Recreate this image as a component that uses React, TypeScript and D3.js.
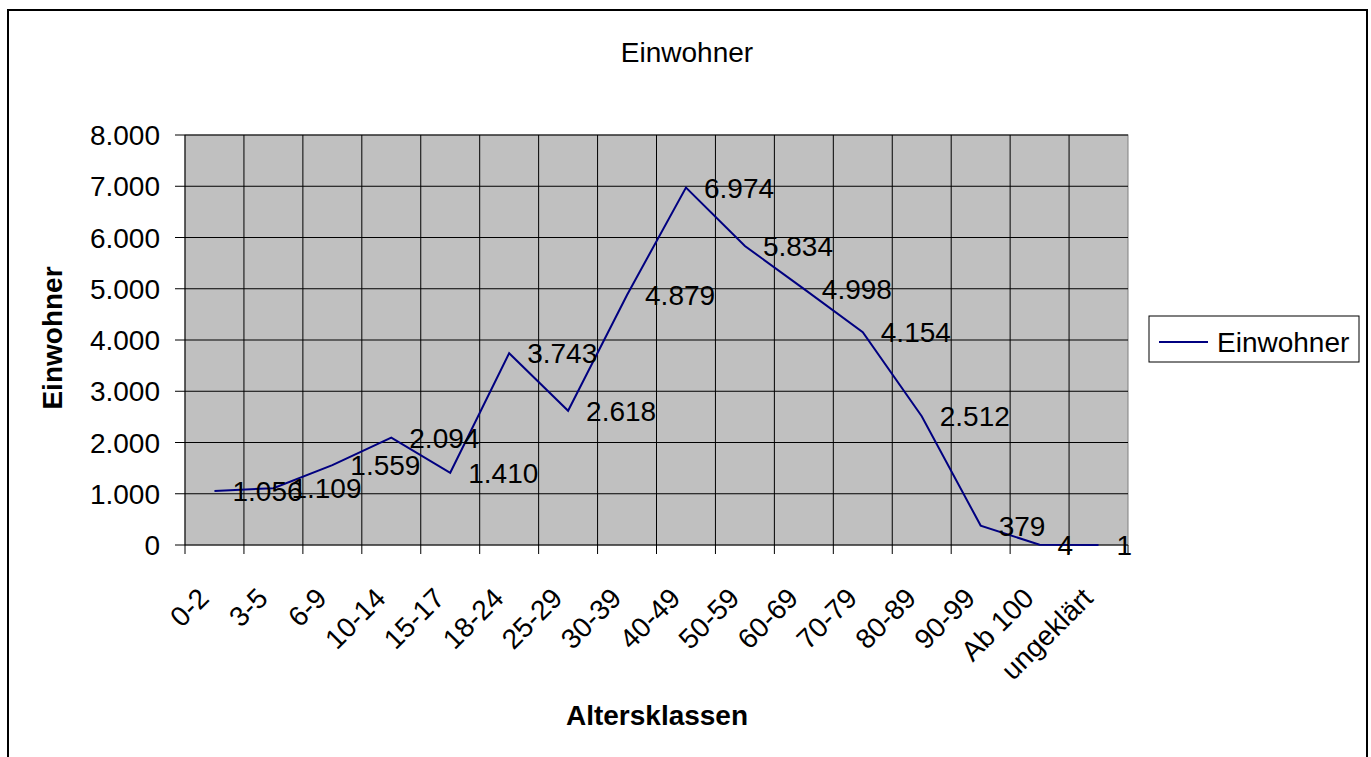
import React from "react";
import * as d3 from "d3";

const categories = ["0-2", "3-5", "6-9", "10-14", "15-17", "18-24", "25-29", "30-39", "40-49", "50-59", "60-69", "70-79", "80-89", "90-99", "Ab 100", "ungeklärt"];
const values = [1056, 1109, 1559, 2094, 1410, 3743, 2618, 4879, 6974, 5834, 4998, 4154, 2512, 379, 4, 1];
const yTicks = [0, 1000, 2000, 3000, 4000, 5000, 6000, 7000, 8000];
const title = "Einwohner";
const seriesName = "Einwohner";
const yTitle = "Einwohner";
const xTitle = "Altersklassen";

const W = 1371, H = 757;
const plot = { left: 185, right: 1128, top: 135, bottom: 545 };
const FONT = "Arial, 'Liberation Sans', sans-serif";
const fmt = (v: number) => {
  const s = String(v);
  return s.replace(/\B(?=(\d{3})+(?!\d))/g, ".");
};

export default function App() {
  const x = d3.scaleBand<string>().domain(categories).range([plot.left, plot.right]).paddingInner(0).paddingOuter(0);
  const y = d3.scaleLinear().domain([0, 8000]).range([plot.bottom, plot.top]);
  const cx = (c: string) => (x(c) as number) + x.bandwidth() / 2;
  const line = d3.line<number>().x((_, i) => cx(categories[i])).y((d) => y(d));
  const boundaries = categories.map((c) => x(c) as number).concat([plot.right]);

  return (
    <svg width={W} height={H} style={{ position: "absolute", left: 0, top: 0, display: "block", background: "#fff" }} fontFamily={FONT}>
      {/* outer frame */}
      <rect x={8} y={10} width={1359} height={800} fill="#fff" stroke="#000" strokeWidth={2} />
      <text x={687} y={62} textAnchor="middle" fontSize={28} fill="#000">{title}</text>

      {/* plot area */}
      <rect x={plot.left} y={plot.top} width={plot.right - plot.left} height={plot.bottom - plot.top} fill="#C0C0C0" stroke="#808080" strokeWidth={1} />
      {yTicks.filter((t) => t > 0).map((t) => (
        <line key={"gy" + t} x1={plot.left} x2={plot.right} y1={y(t)} y2={y(t)} stroke="#000" strokeWidth={1} />
      ))}
      {boundaries.slice(1, -1).map((b, i) => (
        <line key={"gx" + i} x1={b} x2={b} y1={plot.top} y2={plot.bottom} stroke="#000" strokeWidth={1} />
      ))}
      {/* axes */}
      <line x1={plot.left} x2={plot.left} y1={plot.top} y2={plot.bottom} stroke="#000" strokeWidth={1} />
      <line x1={plot.left} x2={plot.right} y1={plot.bottom} y2={plot.bottom} stroke="#000" strokeWidth={1} />
      {yTicks.map((t) => (
        <g key={"yt" + t}>
          <line x1={plot.left - 10} x2={plot.left} y1={y(t)} y2={y(t)} stroke="#000" strokeWidth={1} />
          <text x={160} y={y(t) + 10} textAnchor="end" fontSize={28} fill="#000">{fmt(t)}</text>
        </g>
      ))}
      {boundaries.map((b, i) => (
        <line key={"xt" + i} x1={b} x2={b} y1={plot.bottom} y2={plot.bottom + 9} stroke="#000" strokeWidth={1} />
      ))}
      {categories.map((c) => (
        <text key={"xl" + c} transform={`translate(${cx(c) - 4},${600}) rotate(-45)`} textAnchor="end" fontSize={28} fill="#000">{c}</text>
      ))}

      {/* series */}
      <path d={line(values) as string} fill="none" stroke="#000080" strokeWidth={2} />
      {values.map((v, i) => (
        <text key={"dl" + i} x={cx(categories[i]) + 18} y={y(v) + 10} fontSize={28} fill="#000">{fmt(v)}</text>
      ))}

      {/* axis titles */}
      <text transform={`translate(62,338) rotate(-90)`} textAnchor="middle" fontSize={28} fontWeight="bold" fill="#000">{yTitle}</text>
      <text x={657} y={725} textAnchor="middle" fontSize={28} fontWeight="bold" fill="#000">{xTitle}</text>

      {/* legend */}
      <rect x={1149} y={316} width={210} height={46} fill="#fff" stroke="#000" strokeWidth={1} />
      <line x1={1159} x2={1208} y1={342} y2={342} stroke="#000080" strokeWidth={2} />
      <text x={1217} y={352} fontSize={28} fill="#000">{seriesName}</text>
    </svg>
  );
}
